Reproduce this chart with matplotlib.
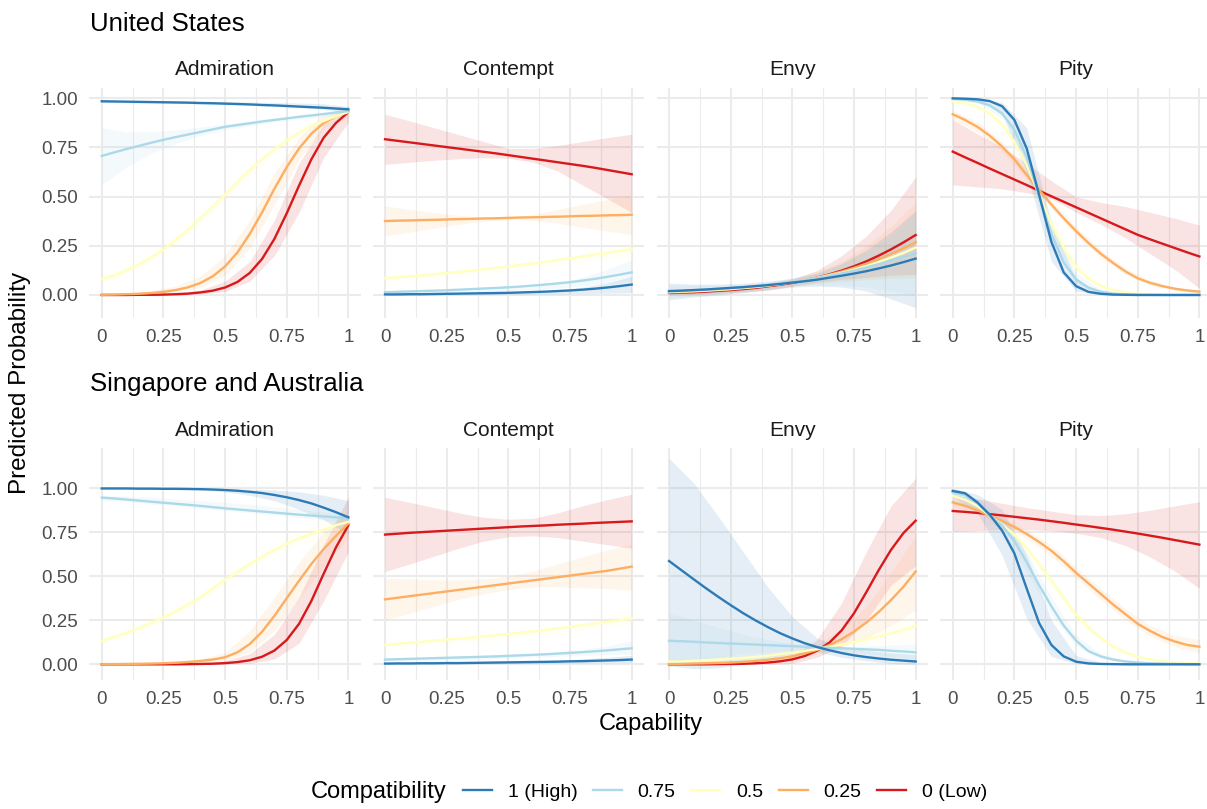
import numpy as np
import matplotlib
matplotlib.use("Agg")
import matplotlib.pyplot as plt
from matplotlib.lines import Line2D

plt.rcParams['font.family'] = ['Liberation Sans', 'DejaVu Sans']

# grids the curves were read on
x_fit = np.linspace(0, 1, 21)
x_band = np.linspace(0, 1, 11)

levels = ["1 (High)", "0.75", "0.5", "0.25", "0 (Low)"]
colors = ["#2C7BB6", "#ABD9E9", "#FFFFBF", "#FDAE61", "#D7191C"]
emotions = ["Admiration", "Contempt", "Envy", "Pity"]
regions = ["United States", "Singapore and Australia"]

# ---- United States ----
us_adm_fit = [
    [.985, .984, .983, .982, .981, .980, .979, .978, .976, .975, .973, .971, .969, .966, .964, .961, .958, .955, .952, .948, .944],
    [.707, .725, .742, .758, .774, .789, .803, .816, .829, .842, .855, .864, .873, .882, .890, .898, .906, .913, .920, .928, .935],
    [.08, .10, .125, .155, .19, .23, .28, .33, .39, .45, .51, .575, .635, .69, .74, .785, .825, .86, .885, .91, .93],
    [.001, .002, .004, .006, .010, .016, .025, .039, .061, .095, .145, .216, .31, .42, .54, .65, .745, .82, .875, .91, .935],
    [0, 0, 0, .001, .001, .002, .004, .007, .013, .022, .038, .066, .112, .183, .285, .415, .556, .69, .80, .875, .93],
]
us_adm_lo = [
    [.978, .977, .976, .974, .972, .969, .965, .960, .953, .944, .930],
    [.56, .65, .72, .77, .81, .84, .86, .88, .895, .905, .915],
    [.06, .10, .16, .25, .36, .48, .605, .715, .80, .865, .915],
    [0, .001, .004, .013, .038, .10, .24, .46, .69, .85, .90],
    [0, 0, 0, .001, .005, .018, .07, .20, .42, .70, .88],
]
us_adm_hi = [
    [.991, .990, .989, .987, .985, .983, .981, .979, .976, .972, .958],
    [.85, .83, .83, .84, .855, .87, .885, .90, .915, .93, .95],
    [.10, .15, .22, .31, .42, .54, .665, .765, .85, .905, .945],
    [.004, .010, .022, .045, .095, .20, .38, .62, .80, .92, .96],
    [.001, .002, .004, .008, .025, .07, .17, .38, .67, .87, .96],
]

us_con_fit = [
    [.003, .003, .004, .004, .005, .006, .007, .008, .009, .010, .011, .013, .015, .017, .020, .023, .027, .032, .038, .045, .053],
    [.014, .016, .018, .020, .022, .024, .027, .030, .033, .036, .039, .043, .048, .053, .059, .065, .073, .082, .092, .103, .115],
    [.085, .090, .095, .100, .106, .112, .118, .124, .131, .138, .145, .153, .161, .169, .178, .187, .196, .205, .214, .223, .232],
    [.376, .378, .379, .381, .382, .384, .386, .387, .389, .390, .392, .394, .395, .397, .398, .400, .402, .403, .405, .406, .408],
    [.792, .784, .776, .768, .760, .752, .744, .736, .728, .720, .711, .702, .693, .684, .675, .666, .657, .647, .636, .625, .614],
]
us_con_lo = [
    [0, 0, .001, .001, .002, .003, .004, .005, .007, .009, .012],
    [.008, .01, .012, .015, .018, .022, .027, .035, .045, .057, .07],
    [.07, .08, .09, .10, .11, .125, .135, .15, .165, .18, .20],
    [.30, .32, .34, .36, .375, .385, .38, .365, .345, .325, .308],
    [.664, .675, .685, .693, .698, .695, .675, .63, .56, .49, .42],
]
us_con_hi = [
    [.006, .007, .008, .01, .012, .015, .02, .028, .04, .06, .095],
    [.022, .024, .026, .03, .034, .04, .05, .065, .09, .13, .178],
    [.10, .105, .11, .12, .13, .145, .16, .18, .205, .235, .27],
    [.453, .435, .42, .405, .395, .395, .41, .435, .46, .485, .508],
    [.919, .885, .85, .815, .78, .745, .745, .76, .78, .80, .817],
]

us_env_fit = [
    [.020, .022, .025, .028, .032, .036, .040, .045, .050, .056, .063, .070, .078, .088, .098, .109, .121, .135, .150, .167, .185],
    [.018, .021, .024, .027, .031, .035, .040, .045, .052, .059, .067, .076, .086, .097, .110, .124, .140, .157, .176, .193, .212],
    [.015, .018, .020, .023, .027, .031, .036, .041, .048, .055, .065, .075, .086, .099, .113, .129, .147, .167, .190, .214, .241],
    [.013, .015, .018, .021, .025, .029, .035, .040, .047, .056, .065, .076, .089, .103, .119, .138, .159, .182, .209, .237, .268],
    [.010, .012, .014, .017, .021, .025, .030, .036, .044, .052, .062, .074, .088, .105, .124, .146, .171, .200, .232, .267, .305],
]
us_env_lo = [
    [-.025, -.01, 0, .012, .025, .04, .045, .04, .02, -.02, -.065],
    [-.015, -.005, .005, .015, .03, .045, .05, .05, .04, .02, 0],
    [0, .005, .012, .022, .035, .05, .06, .07, .075, .075, .075],
    [0, .005, .01, .02, .03, .045, .06, .07, .08, .085, .09],
    [0, .003, .008, .015, .025, .045, .065, .08, .09, .10, .105],
]
us_env_hi = [
    [.06, .055, .055, .06, .07, .085, .11, .16, .23, .32, .43],
    [.05, .05, .05, .055, .065, .085, .115, .16, .22, .30, .42],
    [.03, .035, .04, .05, .062, .08, .11, .16, .23, .31, .41],
    [.03, .033, .037, .045, .06, .085, .12, .17, .25, .35, .47],
    [.02, .025, .03, .04, .055, .08, .125, .2, .3, .43, .60],
]

us_pit_fit = [
    [1.0, .998, .995, .986, .96, .89, .745, .51, .27, .115, .045, .016, .006, .002, .001, 0, 0, 0, 0, 0, 0],
    [.997, .993, .984, .964, .923, .84, .70, .505, .31, .165, .08, .037, .017, .007, .003, .0015, .001, 0, 0, 0, 0],
    [.985, .976, .957, .923, .868, .78, .66, .51, .36, .24, .144, .084, .047, .026, .014, .008, .004, .002, .001, .001, 0],
    [.919, .89, .855, .81, .755, .69, .61, .535, .46, .39, .325, .265, .21, .163, .12, .085, .062, .045, .032, .023, .017],
    [.729, .70, .672, .643, .615, .587, .559, .530, .502, .474, .446, .418, .39, .362, .334, .306, .283, .261, .239, .217, .196],
]
us_pit_lo = [
    [.995, .99, .93, .62, .17, .02, .002, 0, 0, 0, 0],
    [.99, .975, .90, .64, .26, .06, .01, .002, 0, 0, 0],
    [.975, .94, .84, .62, .32, .12, .035, .009, .002, 0, 0],
    [.89, .83, .73, .585, .44, .305, .19, .105, .05, .025, .012],
    [.56, .55, .54, .52, .49, .42, .36, .29, .21, .13, .035],
]
us_pit_hi = [
    [1.0, .999, .98, .85, .37, .08, .015, .003, .001, 0, 0],
    [1.0, .99, .94, .75, .37, .11, .03, .006, .002, .001, 0],
    [.993, .97, .89, .70, .40, .17, .06, .02, .007, .002, .001],
    [.94, .88, .78, .635, .48, .345, .23, .135, .075, .04, .024],
    [.89, .82, .75, .67, .58, .50, .47, .45, .42, .39, .356],
]

# ---- Singapore and Australia ----
sa_adm_fit = [
    [.999, .999, .999, .998, .998, .997, .997, .996, .995, .993, .99, .986, .98, .973, .962, .949, .933, .914, .89, .864, .835],
    [.947, .942, .936, .930, .924, .918, .912, .906, .900, .893, .886, .880, .874, .868, .862, .856, .850, .845, .840, .835, .830],
    [.133, .155, .178, .205, .235, .266, .30, .34, .38, .43, .48, .525, .57, .61, .65, .685, .715, .74, .765, .79, .81],
    [.001, .001, .002, .003, .004, .006, .009, .013, .019, .027, .04, .068, .115, .185, .275, .375, .475, .57, .655, .73, .80],
    [0, 0, 0, 0, 0, 0, 0, .001, .002, .0035, .0067, .0125, .023, .043, .078, .138, .23, .36, .515, .665, .79],
]
sa_adm_lo = [
    [.998, .998, .997, .995, .99, .98, .96, .93, .88, .82, .74],
    [.93, .925, .91, .90, .885, .875, .86, .85, .835, .82, .80],
    [.11, .155, .21, .275, .355, .455, .545, .62, .675, .715, .745],
    [0, .001, .002, .004, .009, .02, .07, .19, .37, .56, .72],
    [0, 0, 0, 0, 0, .001, .006, .03, .12, .36, .64],
]
sa_adm_hi = [
    [1, 1, 1, 1, .999, .998, .995, .99, .98, .96, .93],
    [.96, .955, .95, .94, .93, .92, .91, .895, .88, .865, .855],
    [.155, .20, .26, .325, .405, .505, .595, .68, .755, .81, .865],
    [.003, .005, .008, .015, .032, .065, .19, .38, .58, .75, .87],
    [.001, .001, .001, .002, .006, .02, .06, .17, .38, .68, .95],
]

sa_con_fit = [
    [.004, .005, .005, .006, .006, .007, .007, .008, .009, .010, .011, .012, .013, .014, .015, .017, .018, .020, .022, .024, .027],
    [.027, .029, .031, .033, .035, .037, .039, .041, .043, .045, .048, .051, .054, .057, .061, .065, .069, .074, .079, .085, .091],
    [.11, .116, .122, .128, .134, .14, .146, .152, .159, .166, .173, .18, .188, .196, .204, .213, .222, .231, .24, .25, .261],
    [.369, .378, .387, .396, .405, .414, .423, .432, .441, .450, .459, .468, .477, .486, .495, .504, .513, .522, .531, .543, .555],
    [.737, .742, .747, .751, .755, .759, .763, .767, .771, .775, .779, .783, .786, .789, .793, .796, .799, .803, .806, .809, .812],
]
sa_con_lo = [
    [.001, .001, .002, .002, .003, .004, .005, .006, .008, .009, .01],
    [.018, .02, .023, .026, .03, .035, .04, .045, .05, .055, .058],
    [.095, .103, .11, .12, .13, .145, .16, .175, .19, .205, .22],
    [.252, .29, .33, .37, .40, .425, .44, .44, .435, .43, .422],
    [.527, .57, .615, .66, .70, .725, .73, .72, .70, .68, .659],
]
sa_con_hi = [
    [.008, .009, .01, .011, .013, .015, .019, .024, .031, .04, .05],
    [.036, .038, .04, .042, .045, .05, .058, .07, .085, .105, .135],
    [.125, .13, .135, .145, .155, .17, .185, .205, .235, .265, .30],
    [.489, .485, .48, .48, .485, .50, .53, .57, .61, .65, .684],
    [.949, .92, .89, .86, .835, .824, .83, .86, .90, .935, .966],
]

sa_env_fit = [
    [.587, .535, .483, .432, .383, .336, .291, .25, .212, .177, .147, .12, .098, .08, .064, .051, .041, .033, .026, .021, .016],
    [.134, .131, .128, .124, .121, .118, .115, .112, .109, .106, .103, .100, .097, .094, .091, .088, .085, .082, .077, .073, .068],
    [.015, .017, .02, .023, .027, .031, .036, .042, .049, .057, .066, .076, .087, .099, .112, .126, .141, .158, .176, .196, .218],
    [.002, .003, .004, .0055, .0075, .010, .014, .019, .025, .034, .046, .062, .082, .109, .143, .186, .237, .297, .365, .44, .527],
    [0, 0, 0, 0, .001, .002, .003, .006, .010, .017, .028, .047, .077, .123, .193, .29, .41, .535, .65, .745, .816],
]
sa_env_lo = [
    [-.01, -.025, -.02, 0, .03, .06, .07, .04, .02, .005, 0],
    [0, .02, .04, .06, .07, .08, .085, .075, .06, .045, .03],
    [0, .002, .005, .01, .02, .04, .07, .095, .115, .13, .14],
    [0, 0, 0, .001, .008, .025, .06, .10, .15, .22, .31],
    [0, 0, 0, 0, 0, .005, .04, .10, .25, .45, .56],
]
sa_env_hi = [
    [1.17, 1.03, .84, .64, .44, .27, .15, .10, .08, .065, .055],
    [.29, .25, .21, .17, .14, .12, .10, .10, .105, .11, .115],
    [.035, .04, .045, .055, .07, .09, .105, .13, .17, .22, .29],
    [.008, .01, .014, .02, .04, .07, .11, .20, .33, .52, .73],
    [.001, .001, .002, .005, .012, .045, .14, .35, .64, .90, 1.057],
]

sa_pit_fit = [
    [.985, .972, .92, .85, .76, .63, .43, .235, .11, .045, .015, .005, .002, .001, 0, 0, 0, 0, 0, 0, 0],
    [.977, .962, .915, .845, .79, .70, .58, .45, .33, .22, .135, .075, .045, .027, .016, .01, .006, .004, .002, .001, .001],
    [.956, .935, .90, .845, .795, .735, .66, .57, .475, .375, .28, .21, .15, .10, .068, .044, .028, .018, .011, .007, .005],
    [.92, .90, .875, .845, .815, .78, .74, .695, .645, .585, .52, .46, .40, .34, .285, .23, .19, .155, .13, .11, .10],
    [.871, .866, .86, .853, .846, .838, .83, .822, .813, .804, .794, .785, .775, .765, .754, .743, .731, .719, .706, .693, .68],
]
sa_pit_lo = [
    [.95, .86, .62, .26, .045, .004, 0, 0, 0, 0, 0],
    [.965, .89, .745, .52, .28, .105, .03, .01, .003, .001, 0],
    [.94, .88, .77, .63, .445, .255, .13, .055, .02, .007, .003],
    [.90, .855, .795, .715, .615, .49, .37, .255, .16, .10, .065],
    [.754, .76, .765, .765, .76, .745, .72, .675, .61, .53, .432],
]
sa_pit_hi = [
    [1.0, .965, .88, .62, .25, .05, .01, .002, 0, 0, 0],
    [.987, .94, .835, .64, .38, .165, .06, .025, .01, .004, .002],
    [.97, .92, .82, .69, .505, .31, .17, .08, .036, .016, .008],
    [.94, .895, .835, .765, .675, .55, .43, .315, .22, .165, .14],
    [.962, .94, .915, .89, .87, .85, .845, .855, .875, .90, .924],
]

panels = [
    [(us_adm_fit, us_adm_lo, us_adm_hi), (us_con_fit, us_con_lo, us_con_hi),
     (us_env_fit, us_env_lo, us_env_hi), (us_pit_fit, us_pit_lo, us_pit_hi)],
    [(sa_adm_fit, sa_adm_lo, sa_adm_hi), (sa_con_fit, sa_con_lo, sa_con_hi),
     (sa_env_fit, sa_env_lo, sa_env_hi), (sa_pit_fit, sa_pit_lo, sa_pit_hi)],
]

# layout in pixels
W, H = 1207, 809
col_left = [89.4, 372.7, 656.7, 940.4]
ax_w = 271.3
row_box = [(87.9, 318.2), (447.8, 679.8)]
row_ylim = [(-0.118, 1.053), (-0.088, 1.23)]
strip_base = [75, 436]
title_base = [31, 391]

fig = plt.figure(figsize=(W / 100, H / 100), dpi=100)

for r in range(2):
    top, bot = row_box[r]
    fig.text(90 / W, 1 - title_base[r] / H, regions[r], fontsize=18.5,
             color="black", va="baseline", ha="left")
    for c in range(4):
        ax = fig.add_axes([col_left[c] / W, 1 - bot / H, ax_w / W, (bot - top) / H])
        fit, lo, hi = panels[r][c]
        # ribbons first, then lines (high compatibility drawn last)
        for i in reversed(range(5)):
            ax.fill_between(x_band, lo[i], hi[i], color=colors[i], alpha=0.12, lw=0)
        for i in reversed(range(5)):
            ax.plot(x_fit, fit[i], color=colors[i], lw=1.7, solid_joinstyle="round")
        ax.set_xlim(-0.05, 1.05)
        ax.set_ylim(*row_ylim[r])
        ax.set_xticks([0, .25, .5, .75, 1])
        ax.set_xticklabels(["0", "0.25", "0.5", "0.75", "1"])
        ax.set_xticks([.125, .375, .625, .875], minor=True)
        ax.set_yticks([0, .25, .5, .75, 1])
        if c == 0:
            ax.set_yticklabels(["0.00", "0.25", "0.50", "0.75", "1.00"])
        else:
            ax.set_yticklabels([])
        ax.grid(which="major", color="#EBEBEB", lw=1.5)
        ax.grid(which="minor", axis="x", color="#EBEBEB", lw=0.8)
        ax.set_axisbelow(True)
        ax.tick_params(which="both", length=0, labelsize=13.5,
                       labelcolor="#4D4D4D", pad=8)
        for s in ax.spines.values():
            s.set_visible(False)
        ax.set_facecolor("white")
        fig.text((col_left[c] + ax_w / 2) / W, 1 - strip_base[r] / H, emotions[c],
                 fontsize=15, color="#1A1A1A", ha="center", va="baseline")

fig.text(20 / W, 1 - 383 / H, "Predicted Probability", rotation=90,
         fontsize=17.5, ha="center", va="center")
fig.text(650.5 / W, 1 - 724 / H, "Capability", fontsize=17, ha="center", va="center")

# legend
fig.text(311 / W, 1 - 792 / H, "Compatibility", fontsize=17, ha="left", va="center")
handles = [Line2D([], [], color=col, lw=1.7) for col in colors]
fig.legend(handles, levels, ncol=5, loc="center left",
           bbox_to_anchor=(463 / W, 1 - 792 / H), frameon=False, fontsize=14,
           handlelength=1.5, handletextpad=0.8, columnspacing=0.8,
           borderpad=0, borderaxespad=0)

fig.savefig("out.png", dpi=100, facecolor="white")
